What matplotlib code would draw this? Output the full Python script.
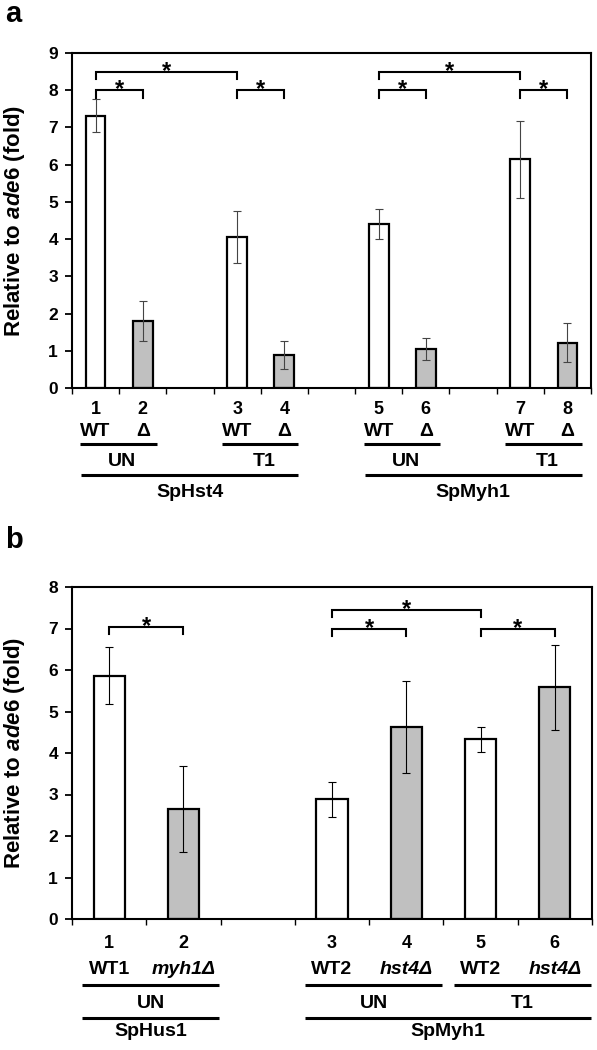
"""Two-panel qPCR bar chart (fold relative to ade6) with significance brackets
and grouped category labels under the x axis."""

import matplotlib
matplotlib.use("Agg")
import matplotlib.pyplot as plt
import matplotlib.transforms as mtransforms
import numpy as np

plt.rcParams.update({"font.family": "Liberation Sans", "font.weight": "bold",
                     "mathtext.fontset": "custom",
                     "mathtext.rm": "Liberation Sans:weight=bold",
                     "mathtext.it": "Liberation Sans:style=italic:weight=bold",
                     "axes.linewidth": 1.5})

WHITE = "white"; GREY = "#C0C0C0"
B = dict(fontweight="bold")

# ---- panel a data ----
a_pos = [0, 1, 3, 4, 6, 7, 9, 10]
a_nums = ["1", "2", "3", "4", "5", "6", "7", "8"]
a_vals = [7.32, 1.80, 4.05, 0.89, 4.41, 1.05, 6.14, 1.22]
a_errs = [0.45, 0.53, 0.70, 0.37, 0.40, 0.30, 1.03, 0.53]
a_fill = [WHITE, GREY] * 4
a_geno = ["WT", "Δ"] * 4
a_treat = [("UN", 0, 1), ("T1", 3, 4), ("UN", 6, 7), ("T1", 9, 10)]
a_prot = [("SpHst4", 0, 4), ("SpMyh1", 6, 10)]
a_sig = [(0, 1, 8.0), (0, 3, 8.5), (3, 4, 8.0), (6, 7, 8.0), (6, 9, 8.5), (9, 10, 8.0)]

# ---- panel b data ----
b_pos = [0, 1, 3, 4, 5, 6]
b_nums = ["1", "2", "3", "4", "5", "6"]
b_vals = [5.86, 2.65, 2.88, 4.63, 4.33, 5.58]
b_errs = [0.69, 1.03, 0.42, 1.10, 0.30, 1.02]
b_fill = [WHITE, GREY, WHITE, GREY, WHITE, GREY]
b_geno = ["WT1", "myh1Δ", "WT2", "hst4Δ", "WT2", "hst4Δ"]
b_italic = [False, True, False, True, False, True]
b_treat = [("UN", 0, 1), ("UN", 3, 4), ("T1", 5, 6)]
b_prot = [("SpHus1", 0, 1), ("SpMyh1", 3, 6)]
b_sig = [(0, 1, 7.03), (3, 4, 7.0), (3, 5, 7.45), (5, 6, 7.0)]


def below(ax, px):
    # x in data, y = px pixels under the bottom spine
    return mtransforms.offset_copy(ax.get_xaxis_transform(), fig=ax.figure,
                                   y=-px, units="dots")


def panel(ax, pos, vals, errs, fill, ncat, ymax, ecolor, sig, leg):
    ax.bar(pos, vals, 0.42, color=fill, edgecolor="black", lw=1.6, zorder=2)
    ax.errorbar(pos, vals, yerr=errs, fmt="none", ecolor=ecolor, elinewidth=0.8,
                capsize=2.8, capthick=0.8, zorder=3)
    ax.set_xlim(-0.5, ncat - 0.5)
    ax.set_ylim(0, ymax)
    ax.set_yticks(np.arange(0, ymax + 1))
    ax.set_yticklabels([str(v) for v in range(ymax + 1)], fontsize=12.5, **B)
    ax.set_xticks(np.arange(-0.5, ncat, 1))
    ax.set_xticklabels([])
    ax.tick_params(axis="y", direction="out", length=5, width=1.3, pad=5)
    ax.tick_params(axis="x", direction="out", length=4, width=1.0)
    ax.set_ylabel(r"Relative to $\mathit{ade6}$ (fold)", fontsize=16, **B)
    ax.yaxis.set_label_coords(-0.087, 0.5)
    for x0, x1, y in sig:
        ax.plot([x0, x0, x1, x1], [y - leg, y, y, y - leg], color="black", lw=1.5,
                solid_joinstyle="miter")
        ax.annotate("*", ((x0 + x1) / 2, y), xytext=(0, -4.5), textcoords="offset points",
                    ha="center", va="baseline", fontsize=17, **B)


def underline(ax, x0, x1, px):
    ax.plot([x0, x1], [0, 0], color="black", lw=2.2, transform=below(ax, px),
            clip_on=False, solid_capstyle="butt")


fig = plt.figure(figsize=(5.97, 10.5), dpi=100)
ax_a = fig.add_axes([72 / 597, 1 - 388 / 1050, 519 / 597, 335 / 1050])
ax_b = fig.add_axes([72 / 597, 1 - 919 / 1050, 520 / 597, 332 / 1050])

# --- panel a ---
panel(ax_a, a_pos, a_vals, a_errs, a_fill, 11, 9, "#444444", a_sig, 0.2)
for x, n, g in zip(a_pos, a_nums, a_geno):
    ax_a.text(x, 0, n, ha="center", va="center", fontsize=13, transform=below(ax_a, 21), **B)
    ax_a.text(x, 0, g, ha="center", va="center", fontsize=14, transform=below(ax_a, 43), **B)
for lab, x0, x1 in a_treat:
    underline(ax_a, x0 - 0.32, x1 + 0.3, 56)
    ax_a.text((x0 + x1) / 2 + 0.07, 0, lab, ha="center", va="center", fontsize=14,
              transform=below(ax_a, 73), **B)
for lab, x0, x1 in a_prot:
    underline(ax_a, x0 - 0.3, x1 + 0.3, 87)
    ax_a.text((x0 + x1) / 2, 0, lab, ha="center", va="center", fontsize=14,
              transform=below(ax_a, 104), **B)

# --- panel b ---
panel(ax_b, b_pos, b_vals, b_errs, b_fill, 7, 8, "black", b_sig, 0.17)
for x, n, g, it in zip(b_pos, b_nums, b_geno, b_italic):
    ax_b.text(x, 0, n, ha="center", va="center", fontsize=13, transform=below(ax_b, 24), **B)
    ax_b.text(x, 0, g, ha="center", va="center", fontsize=14,
              style="italic" if it else "normal", transform=below(ax_b, 50), **B)
for lab, x0, x1 in b_treat:
    underline(ax_b, x0 - 0.36, x1 + 0.48, 66)
    ax_b.text((x0 + x1 + 0.12) / 2, 0, lab, ha="center", va="center", fontsize=14,
              transform=below(ax_b, 85), **B)
for lab, x0, x1 in b_prot:
    underline(ax_b, x0 - 0.36, x1 + 0.48, 99)
    ax_b.text((x0 + x1 + 0.12) / 2, 0, lab, ha="center", va="center", fontsize=14,
              transform=below(ax_b, 113), **B)

fig.text(5 / 597, 1 - 22 / 1050, "a", fontsize=21, ha="left", va="baseline", **B)
fig.text(5 / 597, 1 - 548 / 1050, "b", fontsize=21, ha="left", va="baseline", **B)

fig.savefig("out.png", dpi=100)
